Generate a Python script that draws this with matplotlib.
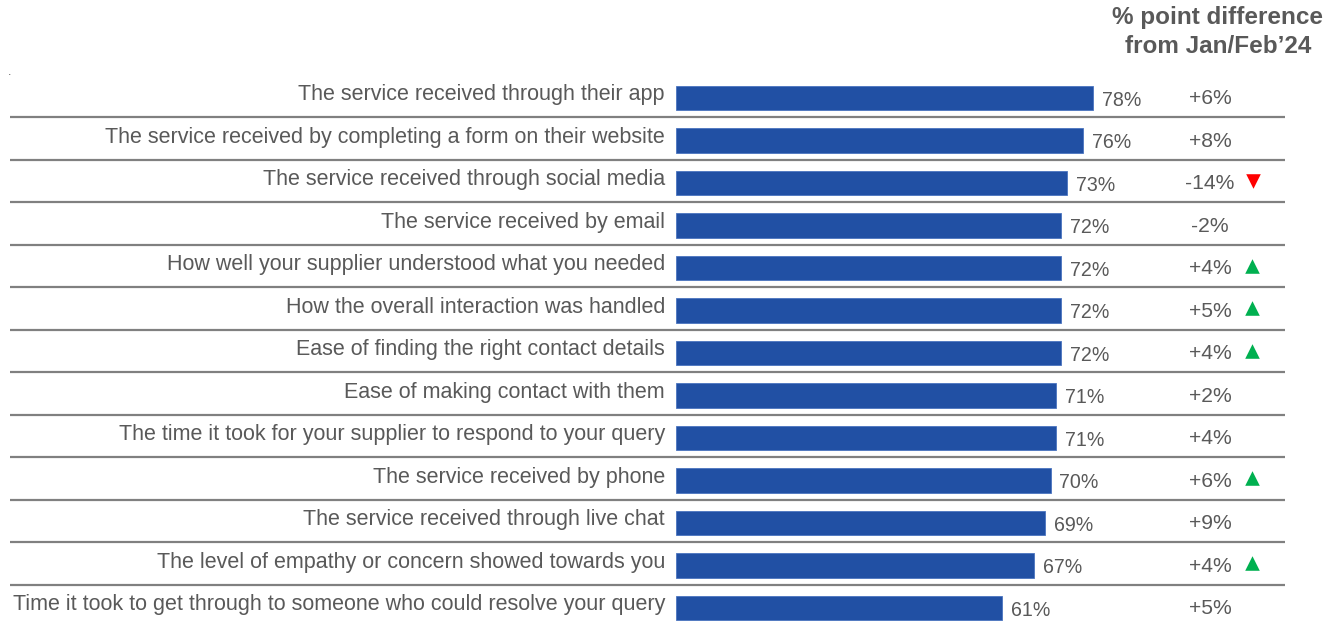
import matplotlib
matplotlib.use("Agg")
import matplotlib.pyplot as plt

plt.rcParams['font.family'] = ['Liberation Sans', 'DejaVu Sans']

categories = [
    "The service received through their app",
    "The service received by completing a form on their website",
    "The service received through social media",
    "The service received by email",
    "How well your supplier understood what you needed",
    "How the overall interaction was handled",
    "Ease of finding the right contact details",
    "Ease of making contact with them",
    "The time it took for your supplier to respond to your query",
    "The service received by phone",
    "The service received through live chat",
    "The level of empathy or concern showed towards you",
    "Time it took to get through to someone who could resolve your query",
]
values = [78, 76, 73, 72, 72, 72, 72, 71, 71, 70, 69, 67, 61]
diffs = [6, 8, -14, -2, 4, 5, 4, 2, 4, 6, 9, 4, 5]
significance = [None, None, "down", None, "up", "up", "up", None, None, "up", None, "up", None]
header = "% point difference\nfrom Jan/Feb\u201924"

BAR_COLOR = "#2150A4"
TEXT_COLOR = "#595959"
LINE_COLOR = "#808080"
UP_COLOR = "#00B050"
DOWN_COLOR = "#FF0000"

W, H, DPI = 1339, 622, 100
fig = plt.figure(figsize=(W / DPI, H / DPI), dpi=DPI)

# axes: x in percent, 5.35 px per point, starting at the bar origin
px_per_pct = 5.35
row_px = 42.5
first_row_px = 98
x0_px = 676
ax = fig.add_axes([x0_px / W, 0, 100 * px_per_pct / W, 1])
ax.set_xlim(0, 100)
ax.set_ylim((H - first_row_px) / row_px, -first_row_px / row_px)
ax.axis("off")

rows = list(range(len(categories)))
ax.barh(rows, values, height=0.565, color=BAR_COLOR, edgecolor="#4A74C0", linewidth=0.6)

pct = lambda px: px / px_per_pct  # pixel offset to percent units

for i, (cat, v, d, s) in enumerate(zip(categories, values, diffs, significance)):
    ax.text(pct(-11), i - 0.08, cat, ha="right", va="center", fontsize=15.5,
            color=TEXT_COLOR, clip_on=False)
    ax.text(v + pct(9), i + 0.05, f"{v}%", ha="left", va="center", fontsize=14.1,
            color=TEXT_COLOR, clip_on=False)
    ax.text(pct(1210 - x0_px), i + 0.02, f"{d:+d}%", ha="center", va="center",
            fontsize=15.2, color=TEXT_COLOR, clip_on=False)
    if s == "up":
        ax.scatter([pct(1252 - x0_px)], [i - 0.05], marker="^", s=110,
                   color=UP_COLOR, linewidths=0, clip_on=False)
    elif s == "down":
        ax.scatter([pct(1253 - x0_px)], [i - 0.05], marker="v", s=110,
                   color=DOWN_COLOR, linewidths=0, clip_on=False)

# separators between rows
ax.hlines([r + 0.45 for r in rows[:-1]], pct(10 - x0_px), pct(1285 - x0_px),
          color=LINE_COLOR, linewidth=1.6, clip_on=False)

fig.text(1218 / W, 1 - 32 / H, header, ha="center", va="center", fontsize=17.5,
         fontweight="bold", color=TEXT_COLOR, linespacing=1.35)
fig.text(8 / W, 1 - 72 / H, ".", ha="left", va="center", fontsize=9, color=TEXT_COLOR)

fig.savefig("out.png", dpi=DPI)
